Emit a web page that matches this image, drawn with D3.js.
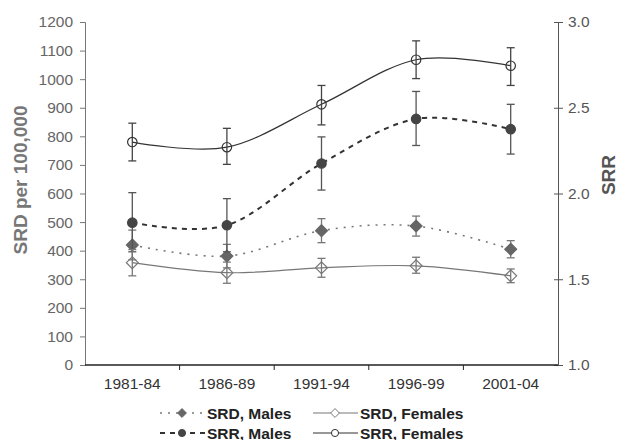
<!DOCTYPE html>
<html>
<head>
<meta charset="utf-8">
<script src="https://cdn.jsdelivr.net/npm/d3@7"></script>
<style>
  body { margin: 0; background: #fff; }
  svg { display: block; font-family: "Liberation Sans", Arial, sans-serif; }
</style>
</head>
<body>
<div id="chart"></div>
<script>
//------Data
const periods = ["1981-84", "1986-89", "1991-94", "1996-99", "2001-04"];

const srdTicks = [0, 100, 200, 300, 400, 500, 600, 700, 800, 900, 1000, 1100, 1200];
const srrTicks = [1.0, 1.5, 2.0, 2.5, 3.0];

const srdMales = [420, 381, 470, 486, 405];
const srdMalesLo = [368, 340, 428, 451, 375];
const srdMalesHi = [472, 422, 512, 521, 435];

const srdFemales = [358, 323, 340, 347, 312];
const srdFemalesLo = [312, 286, 307, 321, 288];
const srdFemalesHi = [404, 360, 373, 377, 336];

const srrMales = [1.83, 1.815, 2.175, 2.435, 2.375];
const srrMalesLo = [1.66, 1.66, 2.02, 2.28, 2.23];
const srrMalesHi = [2.005, 1.97, 2.33, 2.595, 2.52];

const srrFemales = [2.30, 2.27, 2.52, 2.78, 2.745];
const srrFemalesLo = [2.19, 2.17, 2.40, 2.67, 2.63];
const srrFemalesHi = [2.41, 2.38, 2.63, 2.89, 2.85];

//------Svg and dimensions
const W = 619, H = 440;
const margin = { top: 22, right: 61, bottom: 75, left: 85 };
const width = W - margin.left - margin.right;
const height = H - margin.top - margin.bottom;

const svg = d3.select("#chart")
  .append("svg")
  .attr("width", W)
  .attr("height", H);

const chart = svg.append("g")
  .attr("transform", `translate(${margin.left},${margin.top})`);

//------Scales
const xScale = d3.scaleBand().domain(periods).range([0, width]);
const ySRD = d3.scaleLinear().domain([0, 1200]).range([height, 0]);
const ySRR = d3.scaleLinear().domain([1, 3]).range([height, 0]);
const cx = p => xScale(p) + xScale.bandwidth() / 2;

//------Left axis
const leftAxis = chart.append("g")
  .call(d3.axisLeft(ySRD).tickValues(srdTicks).tickFormat(d3.format("d")).tickSize(5).tickPadding(7));
leftAxis.select(".domain").attr("stroke", "#777");
leftAxis.selectAll(".tick line").attr("stroke", "#777");
leftAxis.selectAll("text").attr("fill", "#666").style("font-size", "15.5px");

//------Right axis (ticks cross the line)
const rightAxis = chart.append("g")
  .attr("transform", `translate(${width},0)`)
  .call(d3.axisRight(ySRR).tickValues(srrTicks).tickFormat(d3.format(".1f")).tickSize(5).tickPadding(5));
rightAxis.select(".domain").attr("stroke", "#555");
rightAxis.selectAll(".tick line").attr("x1", -4).attr("stroke", "#555");
rightAxis.selectAll("text").attr("fill", "#555").style("font-size", "15.5px");

//------Bottom axis: ticks between categories
const bottom = chart.append("g").attr("transform", `translate(0,${height})`);
bottom.append("line")
  .attr("x1", 0).attr("x2", width)
  .attr("stroke", "#222").attr("stroke-width", 1.3);
bottom.selectAll(".xt")
  .data(periods.slice(1))
  .enter()
  .append("line")
  .attr("class", "xt")
  .attr("x1", d => xScale(d)).attr("x2", d => xScale(d))
  .attr("y1", 0).attr("y2", 5)
  .attr("stroke", "#222");
bottom.selectAll(".xl")
  .data(periods)
  .enter()
  .append("text")
  .attr("class", "xl")
  .attr("x", d => cx(d))
  .attr("y", 24)
  .attr("text-anchor", "middle")
  .attr("fill", "#333")
  .style("font-size", "15.5px")
  .text(d => d);

//------Axis titles
svg.append("text")
  .attr("transform", "translate(27,180) rotate(-90)")
  .attr("text-anchor", "middle")
  .attr("fill", "#777")
  .style("font-size", "19px")
  .style("font-weight", "bold")
  .text("SRD per 100,000");

svg.append("text")
  .attr("transform", "translate(615,175) rotate(-90)")
  .attr("text-anchor", "middle")
  .attr("fill", "#555")
  .style("font-size", "19px")
  .style("font-weight", "bold")
  .text("SRR");

//------Series definitions
const series = [
  { name: "SRD, Males", vals: srdMales, lo: srdMalesLo, hi: srdMalesHi, y: ySRD,
    color: "#777", width: 1.6, dash: "2,6", marker: "diamond", fill: "#666", err: "#777" },
  { name: "SRR, Males", vals: srrMales, lo: srrMalesLo, hi: srrMalesHi, y: ySRR,
    color: "#333", width: 2, dash: "5,5", marker: "circle", fill: "#444", err: "#555" },
  { name: "SRD, Females", vals: srdFemales, lo: srdFemalesLo, hi: srdFemalesHi, y: ySRD,
    color: "#777", width: 1.2, dash: null, marker: "diamond", fill: "none", err: "#777" },
  { name: "SRR, Females", vals: srrFemales, lo: srrFemalesLo, hi: srrFemalesHi, y: ySRR,
    color: "#333", width: 1.2, dash: null, marker: "circle", fill: "none", err: "#444" }
];

const symbolPath = (m, size) => d3.symbol()
  .type(m === "diamond" ? d3.symbolDiamond2 : d3.symbolCircle)
  .size(size)();

//------Lines, error bars, markers
series.forEach(s => {
  const pts = periods.map((p, i) => ({ p, v: s.vals[i], lo: s.lo[i], hi: s.hi[i] }));

  chart.append("path")
    .datum(pts)
    .attr("fill", "none")
    .attr("stroke", s.color)
    .attr("stroke-width", s.width)
    .attr("stroke-dasharray", s.dash)
    .attr("d", d3.line().curve(d3.curveCatmullRom.alpha(0)).x(d => cx(d.p)).y(d => s.y(d.v)));

  const eb = chart.append("g");
  pts.forEach(d => {
    const x = cx(d.p);
    eb.append("line").attr("x1", x).attr("x2", x)
      .attr("y1", s.y(d.lo)).attr("y2", s.y(d.hi))
      .attr("stroke", s.err).attr("stroke-width", 1.3);
    [d.lo, d.hi].forEach(e => {
      eb.append("line").attr("x1", x - 4).attr("x2", x + 4)
        .attr("y1", s.y(e)).attr("y2", s.y(e))
        .attr("stroke", s.err).attr("stroke-width", 1.3);
    });
  });

  chart.selectAll(null)
    .data(pts)
    .enter()
    .append("path")
    .attr("transform", d => `translate(${cx(d.p)},${s.y(d.v)})`)
    .attr("d", symbolPath(s.marker, s.marker === "diamond" ? 90 : 70))
    .attr("fill", s.fill === "none" ? "none" : s.fill)
    .attr("stroke", s.fill === "none" ? s.color : s.fill)
    .attr("stroke-width", 1.2);
});

//------Legend
const legendPos = [
  { x: 160, y: 413 }, { x: 160, y: 433 }, { x: 313, y: 413 }, { x: 313, y: 433 }
];
series.forEach((s, i) => {
  const g = svg.append("g").attr("transform", `translate(${legendPos[i].x},${legendPos[i].y})`);
  g.append("line")
    .attr("x1", 0).attr("x2", 45)
    .attr("stroke", s.color)
    .attr("stroke-width", s.width)
    .attr("stroke-dasharray", s.dash);
  g.append("path")
    .attr("transform", "translate(22,0)")
    .attr("d", symbolPath(s.marker, s.marker === "diamond" ? 50 : 40))
    .attr("fill", s.fill === "none" ? "#fff" : s.fill)
    .attr("stroke", s.fill === "none" ? s.color : s.fill);
  g.append("text")
    .attr("x", 47)
    .attr("y", 5.5)
    .attr("fill", "#222")
    .style("font-size", "15.5px")
    .style("font-weight", "bold")
    .text(s.name);
});
</script>
</body>
</html>
